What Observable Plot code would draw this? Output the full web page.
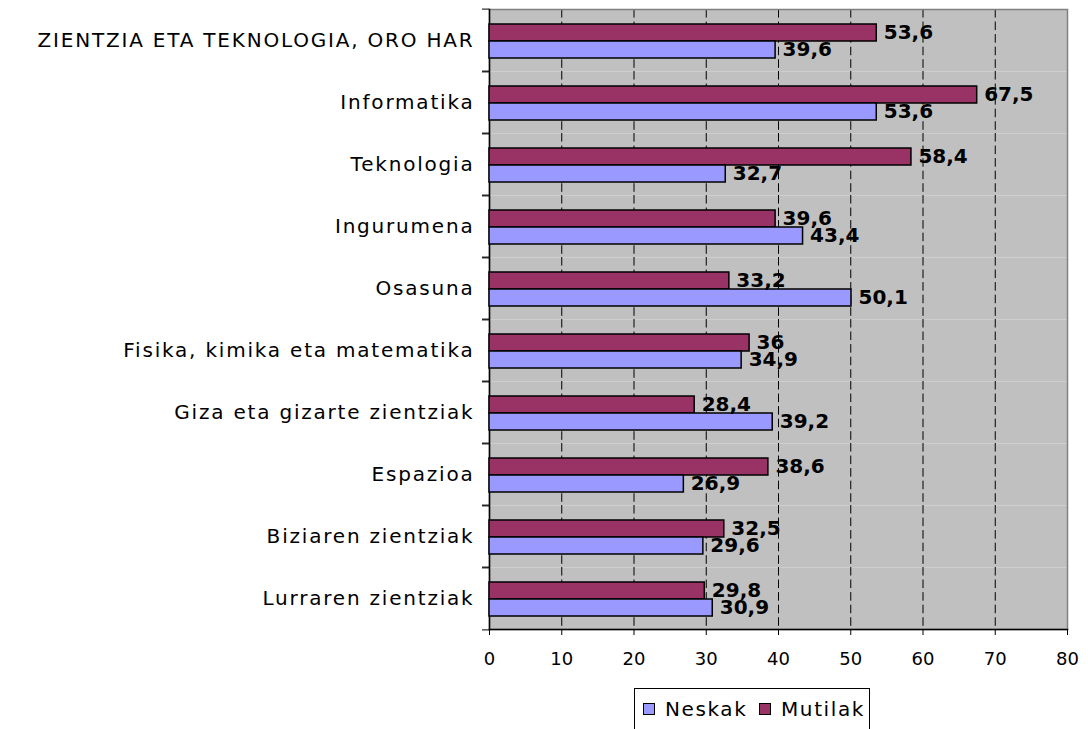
<!DOCTYPE html>
<html>
<head>
<meta charset="utf-8">
<script src="https://cdn.jsdelivr.net/npm/d3@7"></script>
<script src="https://cdn.jsdelivr.net/npm/@observablehq/plot@0.6"></script>
<style>
  html, body { margin: 0; padding: 0; background: #fff; }
  #wrap { position: relative; width: 1088px; height: 729px; overflow: hidden; font-family: "DejaVu Sans", sans-serif; }
  g[aria-label="fy-axis tick label"] text { letter-spacing: 1.8px; }
  #legend { position: absolute; left: 634px; top: 688px; width: 236px; height: 44px; border: 1px solid #000; background: #fff; box-sizing: border-box; font-size: 20px; letter-spacing: 1.6px; white-space: nowrap; }
  #legend .item { position: absolute; top: 8px; display: flex; align-items: center; }
  #legend .sw { width: 10px; height: 10px; border: 1px solid #000; margin-right: 10px; }
</style>
</head>
<body>
<div id="wrap"><div id="chart"></div><div id="legend"></div></div>
<script>
const categories = [
  "ZIENTZIA ETA TEKNOLOGIA, ORO HAR",
  "Informatika",
  "Teknologia",
  "Ingurumena",
  "Osasuna",
  "Fisika, kimika eta matematika",
  "Giza eta gizarte zientziak",
  "Espazioa",
  "Biziaren zientziak",
  "Lurraren zientziak"
];
const series = ["Neskak", "Mutilak"];
const neskak  = [39.6, 53.6, 32.7, 43.4, 50.1, 34.9, 39.2, 26.9, 29.6, 30.9];
const mutilak = [53.6, 67.5, 58.4, 39.6, 33.2, 36, 28.4, 38.6, 32.5, 29.8];
const xTicks = [0, 10, 20, 30, 40, 50, 60, 70, 80];
const colors = ["#9999FF", "#993366"];

const data = categories.flatMap((c, i) => [
  {category: c, series: "Mutilak", value: mutilak[i]},
  {category: c, series: "Neskak", value: neskak[i]}
]);
const fmt = v => String(v).replace(".", ",");

const chart = Plot.plot({
  width: 1088,
  height: 680,
  marginLeft: 489,
  marginRight: 21,
  marginTop: 5,
  marginBottom: 47,
  style: {fontFamily: "DejaVu Sans", fontSize: "18px", color: "#000", background: "transparent"},
  x: {domain: [0, 80], ticks: xTicks, axis: null, label: null},
  y: {domain: ["Mutilak", "Neskak"], paddingInner: 0, paddingOuter: 0.8, align: 0.54, axis: null, label: null},
  fy: {domain: categories, padding: 0, axis: null, label: null},
  color: {domain: series, range: colors},
  marks: [
    Plot.frame({fill: "#C0C0C0"}),
    Plot.ruleX(xTicks.slice(1, -1), {stroke: "#000", strokeDasharray: "8.56,4"}),
    Plot.frame({stroke: "#808080", strokeWidth: 1.5, facet: "super"}),
    Plot.frame({anchor: "left", stroke: "#000", strokeWidth: 1.5, facet: "super"}),
    Plot.frame({anchor: "bottom", stroke: "#000", strokeWidth: 1.5, facet: "super"}),
    Plot.barX(data, {x: "value", y: "series", fy: "category", fill: "series", stroke: "#000", strokeWidth: 1.5}),
    Plot.text(data, {x: "value", y: "series", fy: "category", text: d => fmt(d.value), textAnchor: "start", dx: 7, fontWeight: "bold", fontSize: 20, fill: "#000"}),
    Plot.axisFy({anchor: "left", tickSize: 0, tickPadding: 15, fontSize: 20, label: null}),
    Plot.axisFy({anchor: "left", tickSize: 7, text: null, dy: -31.4, label: null}),
    Plot.axisFy({anchor: "left", tickSize: 7, text: null, dy: 31.4, label: null}),
    Plot.axisX({ticks: xTicks, tickSize: 6, tickPadding: 17, fontSize: 18, tickFormat: d => String(d), label: null})
  ]
});
document.getElementById("chart").appendChild(chart);

const legend = document.getElementById("legend");
const lefts = [8, 124];
series.forEach((s, i) => {
  const item = document.createElement("div");
  item.className = "item";
  item.style.left = lefts[i] + "px";
  const sw = document.createElement("div");
  sw.className = "sw";
  sw.style.background = colors[i];
  const t = document.createElement("span");
  t.textContent = s;
  item.appendChild(sw);
  item.appendChild(t);
  legend.appendChild(item);
});
</script>
</body>
</html>
